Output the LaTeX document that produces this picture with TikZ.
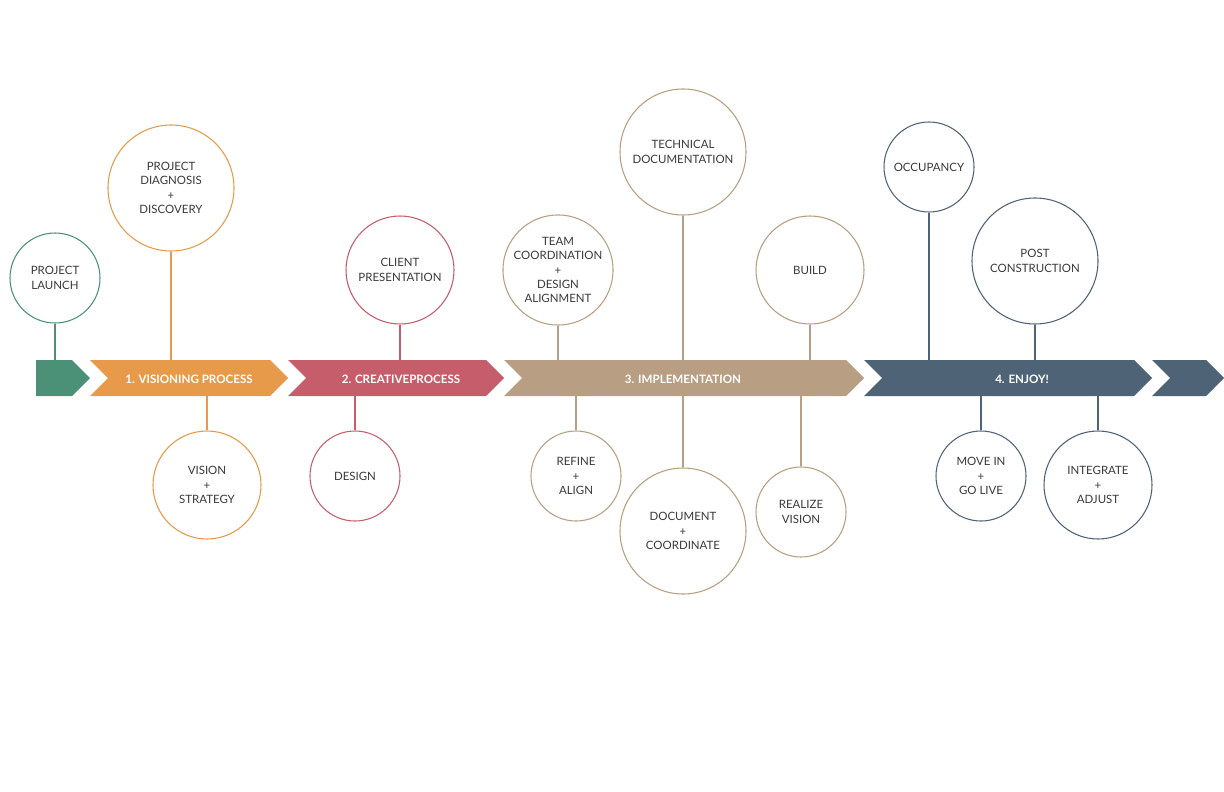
\documentclass[tikz,border=0pt]{standalone}
\usepackage{fontspec}
\setmainfont{Lato}
\begin{document}
\begin{tikzpicture}[x=0.75pt,y=-0.75pt]
\definecolor{cgreen}{HTML}{4A9178}
\definecolor{corange}{HTML}{E69A4A}
\definecolor{cred}{HTML}{C55E6A}
\definecolor{ctan}{HTML}{B89E82}
\definecolor{cnavy}{HTML}{4F6377}
\definecolor{ctext}{HTML}{3A3A3A}
\tikzset{
  bubble/.style={circle,draw=#1,line width=0.8pt,inner sep=0pt,align=center,
    text=ctext,font=\fontsize{8.6pt}{10.7pt}\selectfont},
  small/.style={minimum size=67.5pt},
  medium/.style={minimum size=81pt},
  large/.style={minimum size=94.5pt},
  stem/.style={draw=#1,line width=0.8pt},
  barlabel/.style={text=white,font=\bfseries\fontsize{8.7pt}{10pt}\selectfont,inner sep=0pt},
}
\useasboundingbox (0,0) rectangle (1224,792);
\fill[white] (0,0) rectangle (1224,792);
% bar pieces
\fill[cgreen] (36,360) -- (72,360) -- (90,378) -- (72,396) -- (36,396) -- cycle;
\fill[corange] (90,360) -- (270,360) -- (288,378) -- (270,396) -- (90,396) -- (108,378) -- cycle;
\fill[cred] (288,360) -- (486,360) -- (504,378) -- (486,396) -- (288,396) -- (306,378) -- cycle;
\fill[ctan] (504,360) -- (846,360) -- (864,378) -- (846,396) -- (504,396) -- (522,378) -- cycle;
\fill[cnavy] (864,360) -- (1134,360) -- (1152,378) -- (1134,396) -- (864,396) -- (882,378) -- cycle;
\fill[cnavy] (1152,360) -- (1206,360) -- (1224,378) -- (1206,396) -- (1152,396) -- (1170,378) -- cycle;
\node[barlabel] (p1) at (189,379) {1. VISIONING PROCESS};
\node[barlabel] (p2) at (401,379) {2. CREATIVEPROCESS};
\node[barlabel] (p3) at (683,379) {3. IMPLEMENTATION};
\node[barlabel] (p4) at (1022,379) {4. ENJOY!};
% circles
\node[bubble=cgreen, small] (launch) at (55,278) {PROJECT\\LAUNCH};
\node[bubble=corange, large] (diag) at (171,188) {PROJECT\\DIAGNOSIS\\+\\DISCOVERY};
\node[bubble=corange, medium] (vision) at (207,485) {VISION\\+\\STRATEGY};
\node[bubble=cred, medium] (client) at (400,270) {CLIENT\\PRESENTATION};
\node[bubble=cred, small] (design) at (355,476) {DESIGN};
\node[bubble=ctan, medium] (team) at (558,270) {TEAM\\COORDINATION\\+\\DESIGN\\ALIGNMENT};
\node[bubble=ctan, large] (tech) at (683,152) {TECHNICAL\\DOCUMENTATION};
\node[bubble=ctan, medium] (build) at (810,270) {BUILD};
\node[bubble=ctan, small] (refine) at (576,476) {REFINE\\+\\ALIGN};
\node[bubble=ctan, large] (doc) at (683,531) {DOCUMENT\\+\\COORDINATE};
\node[bubble=ctan, small] (realize) at (801,512) {REALIZE\\VISION};
\node[bubble=cnavy, small] (occ) at (929,167) {OCCUPANCY};
\node[bubble=cnavy, large] (post) at (1035,261) {POST\\CONSTRUCTION};
\node[bubble=cnavy, small] (move) at (981,476) {MOVE IN\\+\\GO LIVE};
\node[bubble=cnavy, medium] (integ) at (1098,485) {INTEGRATE\\+\\ADJUST};
% anchor points on bar
\coordinate (bLaunch) at (55,360);
\coordinate (bDiag) at (171,360);
\coordinate (bVision) at (207,396);
\coordinate (bClient) at (400,360);
\coordinate (bDesign) at (355,396);
\coordinate (bTeam) at (558,360);
\coordinate (bTech) at (683,360);
\coordinate (bBuild) at (810,360);
\coordinate (bRefine) at (576,396);
\coordinate (bDoc) at (683,396);
\coordinate (bRealize) at (801,396);
\coordinate (bOcc) at (929,360);
\coordinate (bPost) at (1035,360);
\coordinate (bMove) at (981,396);
\coordinate (bInteg) at (1098,396);
% stems
\draw[stem=cgreen] (launch.south) -- (bLaunch);
\draw[stem=corange] (diag.south) -- (bDiag);
\draw[stem=corange] (vision.north) -- (bVision);
\draw[stem=cred] (client.south) -- (bClient);
\draw[stem=cred] (design.north) -- (bDesign);
\draw[stem=ctan] (team.south) -- (bTeam);
\draw[stem=ctan] (tech.south) -- (bTech);
\draw[stem=ctan] (build.south) -- (bBuild);
\draw[stem=ctan] (refine.north) -- (bRefine);
\draw[stem=ctan] (doc.north) -- (bDoc);
\draw[stem=ctan] (realize.north) -- (bRealize);
\draw[stem=cnavy] (occ.south) -- (bOcc);
\draw[stem=cnavy] (post.south) -- (bPost);
\draw[stem=cnavy] (move.north) -- (bMove);
\draw[stem=cnavy] (integ.north) -- (bInteg);
\end{tikzpicture}
\end{document}
